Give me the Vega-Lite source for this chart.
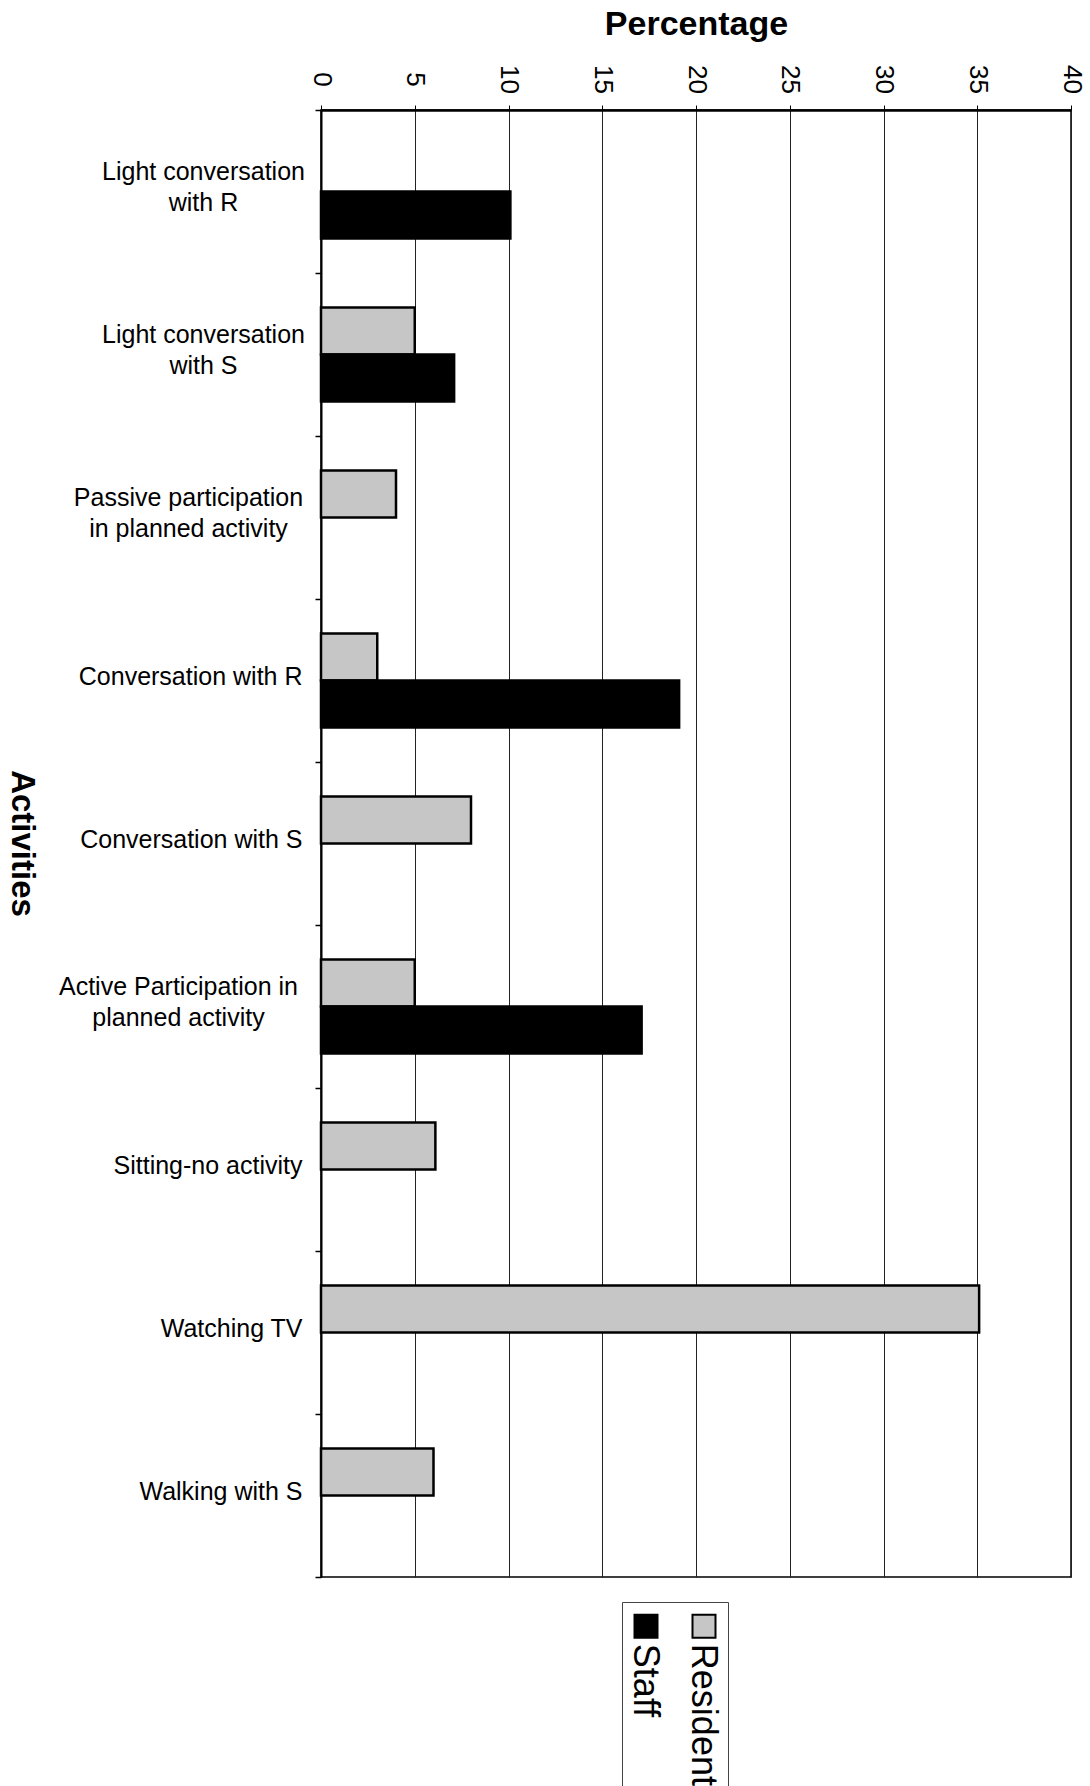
{
  "$schema": "https://vega.github.io/schema/vega-lite/v6.json",
  "autosize": {"type": "none"},
  "padding": {"left": 321, "top": 110, "right": 19, "bottom": 209},
  "width": 750,
  "height": 1467,
  "background": "white",
  "config": {"font": "Liberation Sans", "view": {"stroke": "black", "strokeWidth": 1.5}},
  "data": {"values": [
    {"activity": "Light conversation with R", "group": "Staff", "pct": 10.1},
    {"activity": "Light conversation with S", "group": "Resident", "pct": 5.0},
    {"activity": "Light conversation with S", "group": "Staff", "pct": 7.1},
    {"activity": "Passive participation in planned activity", "group": "Resident", "pct": 4.0},
    {"activity": "Conversation with R", "group": "Resident", "pct": 3.0},
    {"activity": "Conversation with R", "group": "Staff", "pct": 19.1},
    {"activity": "Conversation with S", "group": "Resident", "pct": 8.0},
    {"activity": "Active Participation in planned activity", "group": "Resident", "pct": 5.0},
    {"activity": "Active Participation in planned activity", "group": "Staff", "pct": 17.1},
    {"activity": "Sitting-no activity", "group": "Resident", "pct": 6.1},
    {"activity": "Watching TV", "group": "Resident", "pct": 35.1},
    {"activity": "Walking with S", "group": "Resident", "pct": 6.0}
  ]},
  "mark": {"type": "bar", "stroke": "black", "strokeWidth": 2.5},
  "encoding": {
    "y": {
      "field": "activity", "type": "nominal",
      "sort": ["Light conversation with R", "Light conversation with S", "Passive participation in planned activity", "Conversation with R", "Conversation with S", "Active Participation in planned activity", "Sitting-no activity", "Watching TV", "Walking with S"],
      "scale": {"paddingInner": 0, "paddingOuter": 0},
      "axis": {
        "title": "Activities", "titleFont": "Liberation Sans", "titleFontSize": 33, "titleFontWeight": "bold", "titleColor": "black",
        "titleAngle": 90, "titleX": -300, "titleY": 733, "titleAlign": "center", "titleBaseline": "middle",
        "labelFontSize": 25, "labelColor": "black", "labelLimit": 400, "labelLineHeight": 31, "labelBaseline": "middle",
        "labelExpr": "datum.value == 'Light conversation with R' ? ['Light conversation', 'with R'] : datum.value == 'Light conversation with S' ? ['Light conversation', 'with S'] : datum.value == 'Passive participation in planned activity' ? ['Passive participation', 'in planned activity'] : datum.value == 'Active Participation in planned activity' ? ['Active Participation in', 'planned activity'] : datum.label",
        "labelAlign": {"condition": {"test": "datum.value == 'Light conversation with R' || datum.value == 'Light conversation with S' || datum.value == 'Passive participation in planned activity' || datum.value == 'Active Participation in planned activity'", "value": "center"}, "value": "right"},
        "labelOffset": {"condition": {"test": "datum.value == 'Light conversation with R' || datum.value == 'Light conversation with S' || datum.value == 'Passive participation in planned activity' || datum.value == 'Active Participation in planned activity'", "value": -20}, "value": -4},
        "labelPadding": {"condition": [
          {"test": "datum.value == 'Light conversation with R' || datum.value == 'Light conversation with S'", "value": 112},
          {"test": "datum.value == 'Passive participation in planned activity'", "value": 127},
          {"test": "datum.value == 'Active Participation in planned activity'", "value": 137}
        ], "value": 13},
        "tickBand": "extent", "tickSize": 6, "tickColor": "black", "tickWidth": 1.5,
        "domainColor": "black", "domainWidth": 2, "grid": false
      }
    },
    "yOffset": {"field": "group", "type": "nominal", "scale": {"domain": ["Resident", "Staff"], "paddingInner": 0, "paddingOuter": 0.73}},
    "x": {
      "field": "pct", "type": "quantitative",
      "scale": {"domain": [0, 40], "nice": false},
      "axis": {
        "orient": "top", "values": [0, 5, 10, 15, 20, 25, 30, 35, 40],
        "title": "Percentage", "titleFont": "Liberation Sans", "titleFontSize": 34, "titleFontWeight": "bold", "titleColor": "black",
        "titleX": 375, "titleY": -76, "titleAlign": "center", "titleBaseline": "alphabetic",
        "labelAngle": 90, "labelAlign": "center", "labelBaseline": "middle", "labelFontSize": 26, "labelPadding": 26, "labelColor": "black", "labelFlush": false,
        "tickSize": 5, "tickColor": "black",
        "domainColor": "black", "domainWidth": 2.5,
        "grid": true, "gridColor": "#222222", "gridWidth": 1
      }
    },
    "color": {
      "field": "group", "type": "nominal",
      "scale": {"domain": ["Staff", "Resident"], "range": ["#000000", "#c6c6c6"]},
      "legend": {
        "orient": "none", "legendX": 301, "legendY": 1492, "direction": "horizontal", "title": null,
        "symbolType": "M-1,-1H1V1H-1Z M0,14.2L0,14.2", "symbolSize": 529, "symbolStrokeColor": "black", "symbolStrokeWidth": 2, "symbolOpacity": 1,
        "labelFontSize": 36, "labelFont": "Liberation Sans", "labelColor": "black", "labelLimit": 400, "labelOffset": 4,
        "strokeColor": "#444444", "padding": 6, "columnPadding": 21,
        "encoding": {
          "labels": {"angle": {"value": 90}, "dx": {"value": 17.5}, "dy": {"value": 23}}
        }
      }
    }
  }
}
